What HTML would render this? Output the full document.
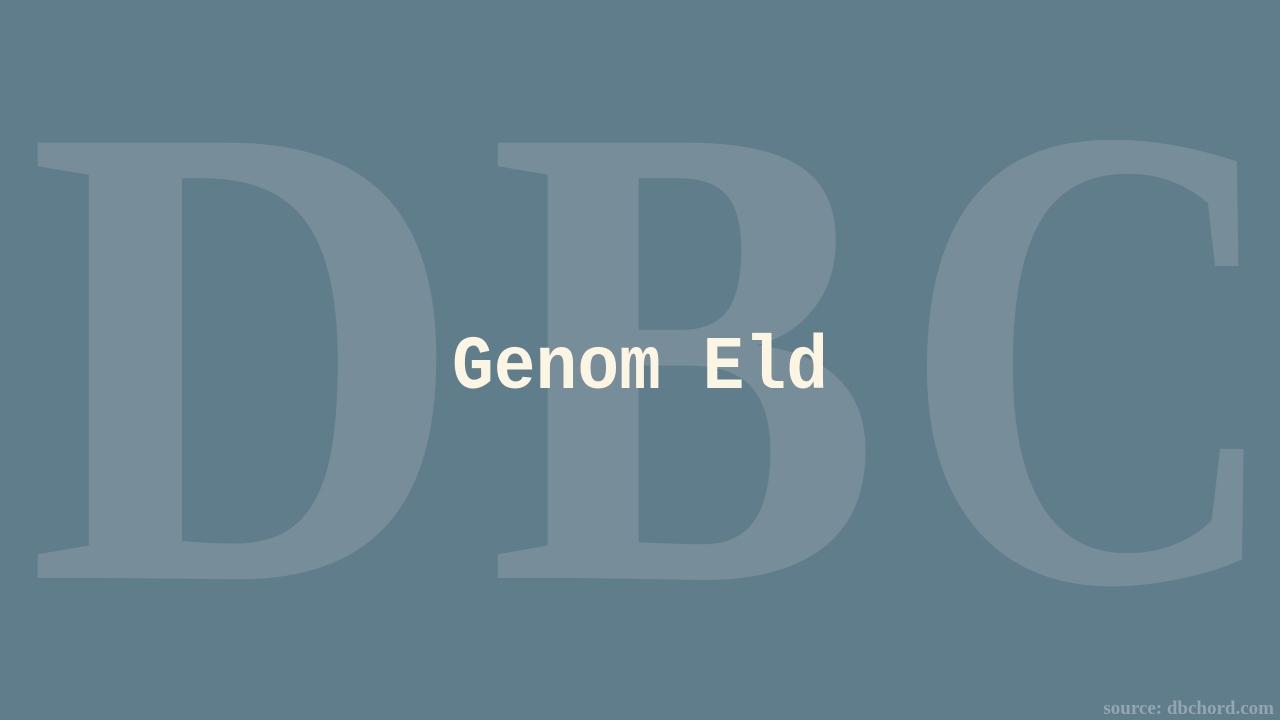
<!DOCTYPE html>
<html><head><meta charset="utf-8"><style>
html,body{margin:0;padding:0;width:1280px;height:720px;overflow:hidden;background:#607d8b;}
svg{display:block}
</style></head><body>
<svg width="1280" height="720" viewBox="0 0 1280 720">
  <rect x="0" y="0" width="1280" height="720" fill="#607d8b"/>
  <g fill="#778d99" font-family="'Liberation Serif', serif" font-weight="bold" font-size="665">
    <text x="27" y="578" textLength="439" lengthAdjust="spacingAndGlyphs">D</text>
    <text x="488" y="578" textLength="394" lengthAdjust="spacingAndGlyphs">B</text>
    <text x="901" y="580" textLength="383" lengthAdjust="spacingAndGlyphs">C</text>
  </g>
  <text x="452" y="388" fill="#fdf5e3" font-family="'Liberation Mono', monospace" font-weight="bold" font-size="76" textLength="376" lengthAdjust="spacingAndGlyphs">Genom Eld</text>
  <text x="1274" y="714" text-anchor="end" fill="#93a6b1" font-family="'Liberation Serif', serif" font-weight="bold" font-size="19">source: dbchord.com</text>
</svg>
</body></html>
